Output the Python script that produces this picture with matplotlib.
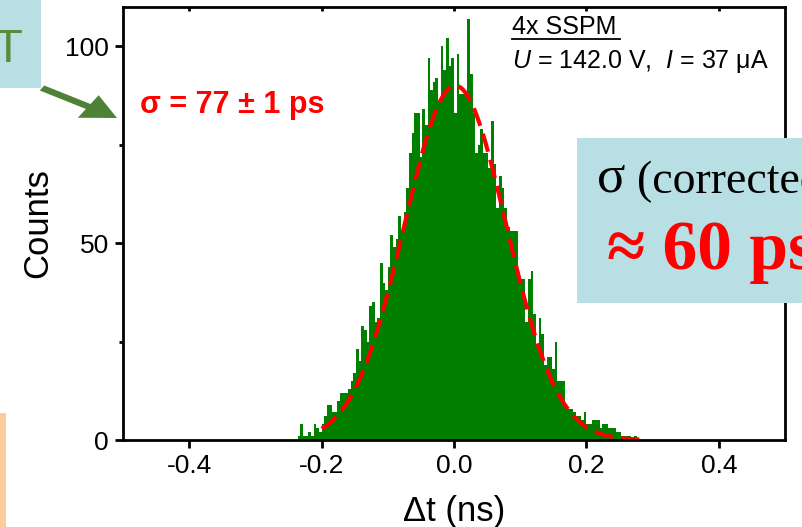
import numpy as np
import matplotlib
matplotlib.use("Agg")
from matplotlib import pyplot as plt
from matplotlib.patches import Rectangle, FancyArrow

# histogram of time differences, 4 ps bins starting at -0.236 ns
bin_start = -0.236
bin_width = 0.004
counts = [1, 4, 1, 1, 2, 1, 4, 3, 2, 4,
          6, 9, 9, 7, 7, 10, 12, 12, 12, 13,
          15, 17, 23, 20, 29, 28, 25, 34, 35, 30,
          31, 45, 40, 38, 44, 52, 49, 51, 57, 53,
          58, 64, 73, 78, 83, 83, 72, 84, 80, 97,
          89, 91, 92, 86, 100, 94, 102, 95, 97, 83,
          98, 88, 88, 88, 107, 93, 83, 73, 75, 79,
          73, 73, 69, 81, 70, 59, 67, 64, 59, 54,
          53, 53, 53, 42, 41, 41, 30, 41, 43, 32,
          24, 31, 27, 19, 21, 21, 18, 25, 15, 15,
          15, 8, 8, 8, 7, 6, 6, 5, 7, 4,
          4, 5, 5, 5, 3, 4, 4, 3, 3, 3,
          2, 2, 1, 1, 1, 1, 0, 1]

# gaussian fit parameters
fit_amp = 90.0
fit_mu = 0.002
fit_sigma = 0.077
fit_range = (-0.2, 0.28)

x_ticks = [-0.4, -0.2, 0.0, 0.2, 0.4]
y_ticks = [0, 50, 100]

W, H = 802, 527
plt.rcParams['font.family'] = ['Liberation Sans', 'DejaVu Sans']
plt.rcParams['mathtext.fontset'] = 'custom'
plt.rcParams['mathtext.rm'] = 'Liberation Sans'
plt.rcParams['mathtext.it'] = 'Liberation Sans:italic'
fig = plt.figure(figsize=(W / 100, H / 100), dpi=100)


def fx(px):
    return px / W


def fy(py):
    return 1 - py / H


ax = fig.add_axes([fx(123), fy(440), fx(785) - fx(123), fy(7) - fy(440)])

edges = bin_start + bin_width * np.arange(len(counts) + 1)
ax.stairs(counts, edges, fill=True, color='#007f00', lw=0)

xf = np.linspace(fit_range[0], fit_range[1], 400)
yf = fit_amp * np.exp(-0.5 * ((xf - fit_mu) / fit_sigma) ** 2)
ax.plot(xf, yf, color='#ff0000', lw=3, linestyle=(0, (4.5, 2)))

ax.set_xlim(-0.5, 0.5)
ax.set_ylim(0, 110)
ax.set_xticks(x_ticks)
ax.set_xticklabels(['%.1f' % v for v in x_ticks])
ax.set_yticks(y_ticks)
ax.set_yticks([25, 75], minor=True)
for s in ax.spines.values():
    s.set_linewidth(2)
ax.tick_params(axis='both', which='major', direction='out', length=6, width=2,
               labelsize=19, pad=4)
ax.tick_params(axis='y', which='minor', direction='out', length=3, width=2)
# small inward ticks along the top
ax.secondary_xaxis('top').tick_params(direction='in', length=3, width=2, labeltop=False)
ax.set_xlabel('\u0394t (ns)', fontsize=25, labelpad=12)
ax.set_ylabel('Counts', fontsize=25, labelpad=8)

ax.text(0.026, 0.774, '\u03c3 = 77 \u00b1 1 ps', transform=ax.transAxes,
        color='#ff0000', fontsize=22, fontweight='bold', va='center')
ax.text(0.588, 0.954, '4x SSPM', transform=ax.transAxes, fontsize=18, va='center')
ax.plot([0.588, 0.751], [0.926, 0.926], transform=ax.transAxes, color='k', lw=1.3)
ax.text(0.588, 0.875, '$U$ = 142.0 V,  $I$ = 37 \u03bcA',
        transform=ax.transAxes, fontsize=18, va='center')

# slide overlays around the plot
fig.add_artist(Rectangle((0, fy(88)), fx(41), 1 - fy(88), transform=fig.transFigure,
                         color='#b8dfe3', lw=0))
fig.text(fx(8), fy(50), 'T', color='#5b8c3c', fontsize=34, ha='center', va='center')
fig.add_artist(FancyArrow(fx(42), fy(88), fx(117) - fx(42), fy(118) - fy(88),
                          width=0.011, head_width=0.05, head_length=0.042,
                          length_includes_head=True, transform=fig.transFigure,
                          color='#4f8136', lw=0))
fig.add_artist(Rectangle((0, 0), fx(6), fy(413), transform=fig.transFigure,
                         color='#ffcc99', lw=0))
fig.add_artist(Rectangle((fx(577), fy(303)), 1 - fx(577), fy(138) - fy(303),
                         transform=fig.transFigure, color='#b8dfe3', lw=0))
fig.text(fx(597), fy(178), '\u03c3', fontsize=38, family=['Liberation Serif'], va='center')
fig.text(fx(637), fy(181), '(corrected)', fontsize=33, family=['Liberation Serif'], va='center')
fig.text(fx(607), fy(252), '\u2248 60 ps', fontsize=50, family=['Liberation Serif', 'DejaVu Serif'],
         fontweight='bold', color='#ff0000', va='center')

fig.savefig('out.png', dpi=100)
